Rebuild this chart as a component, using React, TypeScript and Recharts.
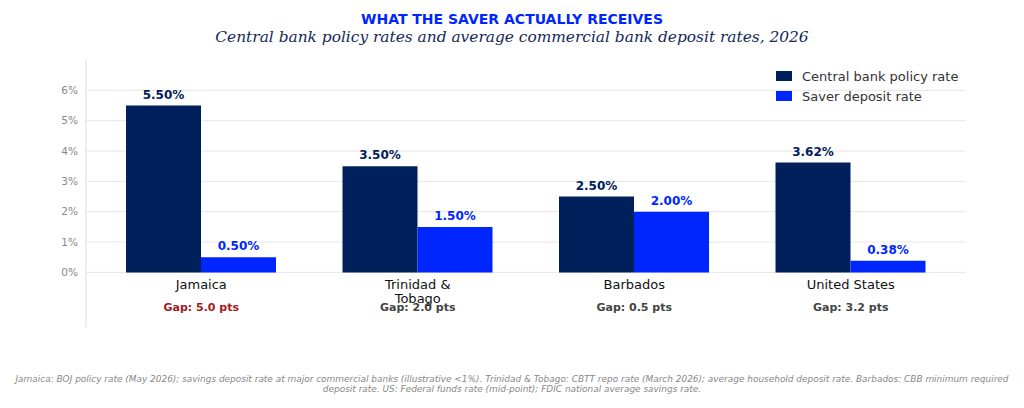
import { BarChart, Bar, XAxis, YAxis, CartesianGrid, LabelList } from "recharts"

const categories = ["Jamaica", "Trinidad &\nTobago", "Barbados", "United States"]
const policyRate = [5.5, 3.5, 2.5, 3.62]
const saverRate = [0.5, 1.5, 2.0, 0.38]
const gapLabels = ["Gap: 5.0 pts", "Gap: 2.0 pts", "Gap: 0.5 pts", "Gap: 3.2 pts"]
const gapColors = ["#a31b1b", "#444444", "#444444", "#444444"]
const yTicks = [0, 1, 2, 3, 4, 5, 6]

const NAVY = "#00205b"
const BLUE = "#0026ff"
const FONT = "'DejaVu Sans', sans-serif"

const data = categories.map((c, i) => ({
  name: c,
  policy: policyRate[i],
  saver: saverRate[i],
  gap: gapLabels[i],
  gapColor: gapColors[i],
}))

function CategoryTick(props: any) {
  const { x, y, payload, index } = props
  const lines = String(payload.value).split("\n")
  const row = data[index]
  return (
    <g>
      {lines.map((l, i) => (
        <text key={i} x={x} y={y - 38 + i * 14} textAnchor="middle" fontSize={13} fill="#111" fontFamily={FONT}>
          {l}
        </text>
      ))}
      <text x={x} y={y - 16} textAnchor="middle" fontSize={11} fontWeight="bold" fill={row?.gapColor} fontFamily={FONT}>
        {row?.gap}
      </text>
    </g>
  )
}

function LegendBox() {
  const items = [
    { label: "Central bank policy rate", color: NAVY },
    { label: "Saver deposit rate", color: BLUE },
  ]
  return (
    <div style={{ position: "absolute", top: 66, left: 776, fontFamily: FONT, fontSize: 13, color: "#333" }}>
      {items.map((it) => (
        <div key={it.label} style={{ display: "flex", alignItems: "center", height: 20 }}>
          <div style={{ width: 16, height: 10, background: it.color, marginRight: 10 }} />
          <span>{it.label}</span>
        </div>
      ))}
    </div>
  )
}

export default function App() {
  return (
    <div style={{ position: "relative", width: 1024, height: 408, margin: -8, background: "#fff", fontFamily: FONT }}>
      <div style={{ position: "absolute", top: 11, left: 0, width: 1024, textAlign: "center", fontSize: 14, fontWeight: "bold", color: BLUE }}>
        WHAT THE SAVER ACTUALLY RECEIVES
      </div>
      <div style={{ position: "absolute", top: 28, left: 0, width: 1024, textAlign: "center", fontSize: 15.4, fontStyle: "italic", fontFamily: "'DejaVu Serif', serif", color: "#14285a" }}>
        Central bank policy rates and average commercial bank deposit rates, 2026
      </div>
      <BarChart
        width={1024}
        height={408}
        data={data}
        margin={{ top: 60, right: 58, left: 36, bottom: 51 }}
        barGap={0}
      >
        <CartesianGrid vertical={false} stroke="#e6e6e6" horizontalValues={yTicks} />
        <XAxis
          dataKey="name"
          axisLine={false}
          tickLine={false}
          tickSize={0}
          tickMargin={0}
          height={30}
          interval={0}
          padding={{ left: 7, right: 7 }}
          tick={<CategoryTick />}
        />
        <YAxis
          width={50}
          domain={[-1.8, 7]}
          ticks={yTicks}
          tickFormatter={(v: number) => `${v}%`}
          tick={{ fill: "#888", fontSize: 10.5, fontFamily: FONT }}
          axisLine={{ stroke: "#dddddd" }}
          tickLine={false}
          allowDataOverflow
        />
        <Bar dataKey="policy" fill={NAVY} barSize={75} isAnimationActive={false}>
          <LabelList
            dataKey="policy"
            position="top"
            offset={7}
            formatter={(v: any) => `${Number(v).toFixed(2)}%`}
            style={{ fill: NAVY, fontSize: 12, fontWeight: "bold", fontFamily: FONT }}
          />
        </Bar>
        <Bar dataKey="saver" fill={BLUE} barSize={75} isAnimationActive={false}>
          <LabelList
            dataKey="saver"
            position="top"
            offset={7}
            formatter={(v: any) => `${Number(v).toFixed(2)}%`}
            style={{ fill: BLUE, fontSize: 12, fontWeight: "bold", fontFamily: FONT }}
          />
        </Bar>
      </BarChart>
      <LegendBox />
      <div style={{ position: "absolute", top: 374, left: 0, width: 1024, textAlign: "center", fontSize: 8.95, fontStyle: "italic", color: "#888", lineHeight: "10px", whiteSpace: "nowrap" }}>
        Jamaica: BOJ policy rate (May 2026); savings deposit rate at major commercial banks (illustrative &lt;1%). Trinidad &amp; Tobago: CBTT repo rate (March 2026); average household deposit rate. Barbados: CBB minimum required
        <br />
        deposit rate. US: Federal funds rate (mid-point); FDIC national average savings rate.
      </div>
    </div>
  )
}
